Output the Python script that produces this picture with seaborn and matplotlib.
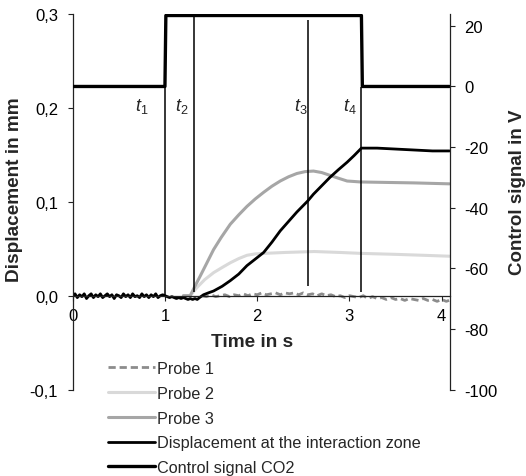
import matplotlib
matplotlib.use("Agg")
import matplotlib.pyplot as plt
import pandas as pd
import seaborn as sns

# ---------------- data ----------------
disp_t = [0.000, 0.025, 0.050, 0.075, 0.100, 0.125, 0.150, 0.175, 0.200, 0.225, 0.250,
          0.275, 0.300, 0.325, 0.350, 0.375, 0.400, 0.425, 0.450, 0.475, 0.500, 0.525,
          0.550, 0.575, 0.600, 0.625, 0.650, 0.675, 0.700, 0.725, 0.750, 0.775, 0.800,
          0.825, 0.850, 0.875, 0.900, 0.925, 0.950, 0.975, 1.000, 1.025, 1.050, 1.075,
          1.100, 1.125, 1.150, 1.175, 1.200, 1.225, 1.250, 1.275, 1.300, 1.325, 1.350,
          1.375, 1.418, 1.470, 1.527, 1.62, 1.708, 1.80, 1.889, 1.98, 2.07, 2.16, 2.25,
          2.34, 2.43, 2.55, 2.61, 2.70, 2.79, 2.88, 2.975, 3.05, 3.13, 3.30, 3.50, 3.70,
          3.90, 4.085]
disp_v = [-0.001, 0.002, -0.002, 0.001, -0.001, 0.002, -0.003, 0.000, 0.002, -0.002,
          0.001, -0.001, 0.002, -0.002, 0.000, 0.002, -0.001, 0.001, -0.003, 0.001,
          0.000, -0.002, 0.002, -0.001, 0.001, -0.002, 0.002, -0.001, 0.000, -0.002,
          0.002, -0.001, 0.001, -0.002, 0.001, -0.001, 0.002, -0.002, 0.000, 0.001,
          0.000, -0.001, -0.002, -0.001, -0.002, -0.003, -0.002, -0.003, -0.002, -0.003,
          -0.004, -0.003, -0.004, -0.003, -0.004, -0.002, 0.001, 0.003, 0.005, 0.010,
          0.016, 0.023, 0.032, 0.039, 0.046, 0.057, 0.069, 0.079, 0.089, 0.101, 0.108,
          0.117, 0.126, 0.134, 0.142, 0.149, 0.157, 0.157, 0.156, 0.155, 0.154, 0.154]

p1_t = [1.40, 1.45, 1.50, 1.55, 1.60, 1.65, 1.70, 1.75, 1.80, 1.85, 1.90, 1.95, 2.00,
        2.05, 2.10, 2.15, 2.20, 2.25, 2.30, 2.35, 2.40, 2.45, 2.50, 2.55, 2.60, 2.65,
        2.70, 2.75, 2.80, 2.85, 2.90, 2.95, 3.00, 3.05, 3.10, 3.15, 3.20, 3.25, 3.30,
        3.35, 3.40, 3.45, 3.50, 3.55, 3.60, 3.65, 3.70, 3.75, 3.80, 3.85, 3.90, 3.95,
        4.00, 4.05, 4.08]
p1_v = [0.000, -0.001, 0.001, -0.001, 0.000, 0.001, -0.001, 0.001, 0.000, 0.002, 0.000,
        0.002, 0.001, 0.003, 0.001, 0.002, 0.003, 0.001, 0.003, 0.002, 0.003, 0.001,
        0.003, 0.001, 0.002, 0.000, 0.002, 0.000, 0.001, -0.001, 0.000, -0.002, 0.000,
        -0.001, -0.002, 0.000, -0.003, -0.001, -0.003, -0.002, -0.004, -0.002, -0.004,
        -0.003, -0.005, -0.003, -0.004, -0.005, -0.003, -0.005, -0.004, -0.006, -0.004,
        -0.006, -0.005]

p2_t = [1.20, 1.274, 1.35, 1.43, 1.527, 1.62, 1.708, 1.80, 1.889, 1.98, 2.07, 2.30,
        2.62, 2.90, 3.13, 3.50, 3.80, 4.085]
p2_v = [0.000, 0.000, 0.009, 0.017, 0.0245, 0.030, 0.035, 0.0395, 0.043, 0.0445, 0.045,
        0.046, 0.047, 0.046, 0.045, 0.044, 0.043, 0.042]

p3_t = [1.20, 1.274, 1.33, 1.383, 1.45, 1.527, 1.61, 1.708, 1.80, 1.889, 1.98, 2.07,
        2.16, 2.25, 2.34, 2.43, 2.52, 2.61, 2.70, 2.79, 2.88, 2.975, 3.05, 3.12, 3.40,
        3.70, 4.085]
p3_v = [0.000, 0.000, 0.011, 0.021, 0.034, 0.049, 0.062, 0.076, 0.086, 0.095, 0.103,
        0.110, 0.1165, 0.122, 0.1265, 0.130, 0.132, 0.1326, 0.131, 0.128, 0.125, 0.122,
        0.1215, 0.121, 0.1205, 0.120, 0.119]

sig_t = [0.0, 1.0, 1.01, 3.13, 3.14, 4.085]
sig_v = [0.0, 0.0, 23.4, 23.4, 0.0, 0.0]

event_t = [1.0, 1.32, 2.55, 3.13]
event_lo = [0.0, 0.004, 0.010, 0.0035]
event_hi = [0.2216, 0.298, 0.293, 0.2216]
event_names = [r"$\mathit{t}_{\mathit{1}}$", r"$\mathit{t}_{\mathit{2}}$",
               r"$\mathit{t}_{\mathit{3}}$", r"$\mathit{t}_{\mathit{4}}$"]
event_label_t = [0.75, 1.18, 2.47, 3.00]
event_label_v = 0.198

legend_labels = ["Probe 1", "Probe 2", "Probe 3",
                 "Displacement at the interaction zone", "Control signal CO2"]

x_ticks = [0, 1, 2, 3, 4]
x_ticklabels = ["0", "1", "2", "3", "4"]
left_ticks = [-0.1, 0.0, 0.1, 0.2, 0.3]
left_ticklabels = ["-0,1", "0,0", "0,1", "0,2", "0,3"]
right_ticks = [-100, -80, -60, -40, -20, 0, 20]
right_ticklabels = ["-100", "-80", "-60", "-40", "-20", "0", "20"]

# ---------------- style ----------------
sns.set_theme(style="white")
plt.rcParams["font.family"] = ["Liberation Sans", "DejaVu Sans"]
plt.rcParams["axes.unicode_minus"] = False
plt.rcParams["mathtext.fontset"] = "custom"
plt.rcParams["mathtext.it"] = "Liberation Sans:italic"
plt.rcParams["mathtext.rm"] = "Liberation Sans"

fig = plt.figure(figsize=(5.26, 4.77), dpi=100)
ax = fig.add_axes([0.1382, 0.1809, 0.7164, 0.7883])
ax2 = ax.twinx()

c_p1, c_p2, c_p3, c_blk = "#8c8c8c", "#d9d9d9", "#a6a6a6", "#000000"

sns.lineplot(x=p1_t, y=p1_v, ax=ax, color=c_p1, lw=2.0, linestyle=(0, (2.6, 1.4)),
             estimator=None, sort=False, label=legend_labels[0])
sns.lineplot(x=p2_t, y=p2_v, ax=ax, color=c_p2, lw=2.2,
             estimator=None, sort=False, label=legend_labels[1])
sns.lineplot(x=p3_t, y=p3_v, ax=ax, color=c_p3, lw=2.2,
             estimator=None, sort=False, label=legend_labels[2])
sns.lineplot(x=disp_t, y=disp_v, ax=ax, color=c_blk, lw=2.0,
             estimator=None, sort=False, label=legend_labels[3])
sns.lineplot(x=sig_t, y=sig_v, ax=ax2, color=c_blk, lw=2.4,
             estimator=None, sort=False, label=legend_labels[4])

ax.vlines(event_t, event_lo, event_hi, colors="black", lw=1.1)
for tt, name in zip(event_label_t, event_names):
    ax.text(tt, event_label_v, name, fontsize=13, ha="center", va="baseline")

ax.set_xlim(0, 4.085)
ax.set_ylim(-0.1, 0.3)
ax2.set_ylim(-100, 24.0)

ax.set_xticks(x_ticks)
ax.set_xticklabels(x_ticklabels)
ax.set_yticks(left_ticks)
ax.set_yticklabels(left_ticklabels)
ax2.set_yticks(right_ticks)
ax2.set_yticklabels(right_ticklabels)

for a in (ax, ax2):
    for s in a.spines.values():
        s.set_color("#222222")
        s.set_linewidth(0.9)
ax.spines["top"].set_visible(False)
ax.spines["right"].set_visible(False)
ax.spines["bottom"].set_position(("data", 0))
ax2.spines["top"].set_visible(False)
ax2.spines["left"].set_visible(False)
ax2.spines["bottom"].set_visible(False)

ax.tick_params(axis="x", bottom=True, direction="out", length=3.5, width=0.8,
               pad=5.3, labelsize=12, colors="#222222", labelcolor="black")
ax.tick_params(axis="y", left=True, direction="out", length=3.5, width=0.8,
               pad=7, labelsize=12, colors="#222222", labelcolor="black")
ax2.tick_params(axis="y", right=True, direction="out", length=3.5, width=0.8,
                pad=7, labelsize=12, colors="#222222", labelcolor="black")
ax.set_xlabel("")
ax.set_ylabel("")
ax2.set_ylabel("")

fig.text(252 / 526, 1 - 346.7 / 477, "Time in s", fontsize=13.7, fontweight="bold",
         ha="center", va="baseline")
fig.text(15 / 526, 1 - 190 / 477, "Displacement in mm", fontsize=13.7, fontweight="bold",
         rotation=90, ha="center", va="center")
fig.text(517.5 / 526, 1 - 192 / 477, "Control signal in V", fontsize=13.5,
         fontweight="bold", rotation=90, ha="center", va="center")

h1, l1 = ax.get_legend_handles_labels()
h2, l2 = ax2.get_legend_handles_labels()
for a in (ax, ax2):
    if a.get_legend() is not None:
        a.get_legend().remove()
fig.legend(h1 + h2, l1 + l2, loc="upper left", bbox_to_anchor=(108 / 526, 1 - 362 / 477),
           frameon=False, fontsize=11.7, handlelength=2.9, handletextpad=0.1,
           labelspacing=0.6, borderpad=0, borderaxespad=0)

fig.savefig("out.png", dpi=100)
